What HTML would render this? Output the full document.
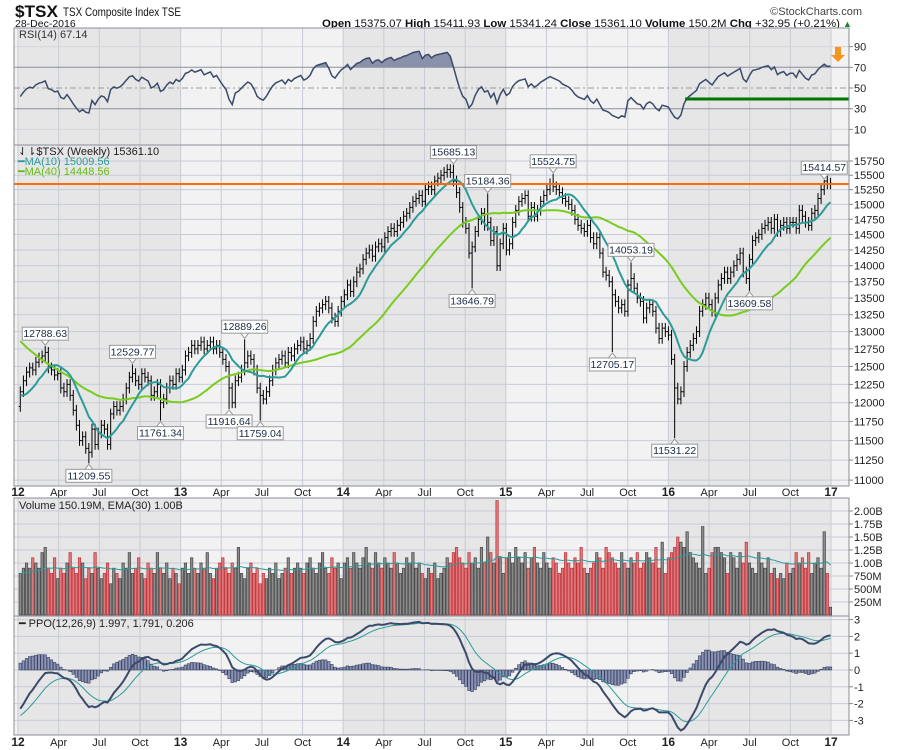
<!DOCTYPE html>
<html><head><meta charset="utf-8">
<style>
html,body{margin:0;padding:0;background:#fff;}
svg{display:block;font-family:"Liberation Sans",sans-serif;}
</style></head>
<body>
<svg id="chart" width="900" height="750" viewBox="0 0 900 750" xmlns="http://www.w3.org/2000/svg">
  <text x="15" y="17" font-size="17" font-weight="bold" fill="#111" textLength="43" lengthAdjust="spacingAndGlyphs">$TSX</text>
  <text x="63" y="16" font-size="12" fill="#111" textLength="118" lengthAdjust="spacingAndGlyphs">TSX Composite Index  TSE</text>
  <text x="15" y="27" font-size="10.5" fill="#111">28-Dec-2016</text>
  <text x="862" y="15" font-size="11" fill="#444" text-anchor="end">©StockCharts.com</text>
  <text x="322" y="27" font-size="11" fill="#111" textLength="518" lengthAdjust="spacingAndGlyphs"><tspan font-weight="bold">Open</tspan> 15375.07 <tspan font-weight="bold">High</tspan> 15411.93 <tspan font-weight="bold">Low</tspan> 15341.24 <tspan font-weight="bold">Close</tspan> 15361.10 <tspan font-weight="bold">Volume</tspan> 150.2M <tspan font-weight="bold">Chg</tspan> +32.95 (+0.21%)</text>
  <text x="843" y="27" font-size="9" fill="#1a8a1a">▲</text>
</svg>
<script>
// ---------- DATA ----------
const priorCloses = [14000,14100,14150,14050,13900,14000,14100,13950,13800,13700,13550,13500,13400,13300,13200,13100,13300,13350,13200,12900,12700,12400,12300,12450,12550,12400,12200,12100,11800,11900,12100,12300,12200,12100,12000,12050,11950,12200,12100,11950];
const closes2012 = [12150,12300,12420,12480,12450,12560,12620,12650,12700,12480,12450,12380,12400,12200,12150,12250,12100,11900,11700,11500,11550,11400,11350,11650,11450,11600,11700,11650,11450,11850,11950,11900,11950,12050,12200,12350,12400,12300,12250,12400,12350,12300,12100,12150,12250,12000,12050,12200,12300,12250,12400,12350];
const closes2013 = [12450,12650,12700,12800,12750,12800,12850,12750,12800,12850,12750,12800,12700,12600,12500,12200,12000,12300,12350,12450,12550,12650,12600,12450,12200,12100,12050,12150,12300,12450,12550,12600,12650,12550,12700,12650,12750,12800,12850,12750,12800,12900,13150,13300,13350,13400,13450,13350,13200,13150,13300,13450];
const closes2014 = [13550,13700,13600,13750,13900,13950,14100,14200,14250,14150,14300,14350,14300,14450,14550,14600,14550,14650,14700,14800,14850,14950,15050,15100,15150,15050,15250,15300,15250,15400,15450,15500,15550,15600,15550,15400,15200,14950,14700,14600,14200,14300,14550,14750,14850,14650,14700,14400,14550,14000,14350,14600];
const closes2015 = [14250,14350,14700,14900,15050,15100,15150,14800,14950,14800,14900,15050,15150,15250,15350,15300,15250,15200,15100,15050,15000,14900,14750,14650,14600,14550,14650,14450,14350,14450,14200,13900,13850,13750,13550,13450,13350,13400,13300,13700,13800,13650,13500,13450,13200,13350,13400,13300,13050,12900,13050,13000];
const closes2016 = [12950,12600,12200,12050,12150,12500,12700,12800,12900,13000,13300,13400,13500,13400,13300,13500,13700,13800,13900,13800,13900,14000,14100,14200,13900,13800,14100,14400,14450,14500,14600,14650,14700,14600,14750,14550,14650,14700,14600,14700,14700,14600,14900,14800,14700,14650,14850,14900,15100,15250,15400,15350,15361];
// volume in hundreds of millions
const volume = [
8,9,10,9,11,10,9,12,13,9,8,11,7, 9,8,10,12,9,8,11,10,7,9,8,12,9, 7,8,10,6,9,8,7,10,9,12,8,9,11, 8,7,10,9,8,12,9,8,10,7,9,8,6,
9,10,8,11,9,8,10,9,12,8,7,9,10, 11,9,8,10,9,13,8,7,9,10,8,9,6, 8,7,9,8,10,7,8,9,11,8,9,10,9, 8,10,11,9,8,10,12,9,8,11,9,10,7,
10,11,9,12,10,9,11,13,10,9,12,10,9, 11,10,9,12,10,8,9,11,10,12,9,10,8, 7,9,8,10,7,8,9,11,10,12,13,11,10, 9,12,10,11,9,13,10,15,12,10,22,11,8,
11,12,10,13,11,10,12,9,11,13,10,9,12, 10,9,11,10,8,9,12,10,9,11,10,13,9, 8,9,10,12,11,9,13,12,11,10,9,12,10, 9,11,10,12,9,10,12,11,10,13,9,14,8,
11,12,13,15,14,13,16,12,11,10,9,17,8, 9,12,13,13,12,11,8,12,11,9,12,10,14, 10,9,8,12,10,9,11,8,9,7,8,7,10, 8,9,12,10,11,9,12,8,10,11,9,16,8,1.5];
const annIdx = [8,22,36,45,67,72,77,139,145,150,171,190,196,210,234,258];
const annVal = [12788.63,11209.55,12529.77,11761.34,11916.64,12889.26,11759.04,15685.13,13646.79,15184.36,15524.75,12705.17,14053.19,11531.22,13609.58,15414.57];
const annHigh = [1,0,1,0,0,1,0,1,0,1,1,0,1,0,0,1];
const priceTicks = [15750,15500,15250,15000,14750,14500,14250,14000,13750,13500,13250,13000,12750,12500,12250,12000,11750,11500,11250,11000];
const rsiTicks = [90,70,50,30,10];
const volTicks = [2.0,1.75,1.5,1.25,1.0,0.75,0.5,0.25];
const volTickLabels = ['2.00B','1.75B','1.50B','1.25B','1.00B','750M','500M','250M'];
const ppoTicks = [3,2,1,0,-1,-2,-3];

// ---------- SCALES ----------
const L=14, R=849;
const closes = [].concat(closes2012,closes2013,closes2014,closes2015,closes2016);
const all = priorCloses.concat(closes);
const P = priorCloses.length;
const N = closes.length;
const xi = i => 20.3 + i*3.116;
const xt = y => 18 + (y-2012)*162.6;
const yPrice = p => 161 + 889*(Math.log(15750)-Math.log(p));
const yRsi = v => 88 - (v-50)*1.035;
const yVol = b => 615 - b*52;
const yPpo = v => 670 - v*16.8;
const MAIN=[145,486], RSIP=[28,145], VOLP=[498,616], PPOP=[616,735];

// ---------- INDICATORS ----------
function sma(arr,n){return arr.map((v,i)=>{const s=Math.max(0,i-n+1);let t=0;for(let j=s;j<=i;j++)t+=arr[j];return t/(i-s+1);});}
function ema(arr,n){const k=2/(n+1);let e=arr[0];return arr.map(v=>(e=v*k+e*(1-k)));}
const ma10 = sma(all,10).slice(P), ma40 = sma(all,40).slice(P);
let ag=0, al=0; const rsiAll=[50];
for(let i=1;i<all.length;i++){const d=all[i]-all[i-1];const g=Math.max(d,0),l=Math.max(-d,0);
  if(i<=14){ag+=g/14;al+=l/14;}else{ag=(ag*13+g)/14;al=(al*13+l)/14;}
  rsiAll.push(al===0?100:100-100/(1+ag/al));}
const rsi = rsiAll.slice(P);
const e12=ema(all,12), e26=ema(all,26);
const ppoAll = all.map((v,i)=>(e12[i]-e26[i])/e26[i]*100);
const sigAll = ema(ppoAll,9);
const ppo = ppoAll.slice(P), sig = sigAll.slice(P);
const volB = volume.map(v=>v/10);
const volEma = ema(volB,30);

// ---------- DRAW ----------
const NS='http://www.w3.org/2000/svg';
const svg=document.getElementById('chart');
function mk(tag,attrs,parent){const e=document.createElementNS(NS,tag);for(const k in attrs)e.setAttribute(k,attrs[k]);(parent||svg).appendChild(e);return e;}
function txt(s,attrs,parent){const e=mk('text',attrs,parent);e.textContent=s;return e;}

function panel(name,top,bot){
  const g=mk('g',{});
  
  
  const bg=mk('rect',{x:L,y:top,width:R-L,height:bot-top,fill:'#f2f2f2'},g);
  
  
  for(let y=2012;y<=2016;y+=2){
    const b=mk('rect',{x:Math.max(L,xt(y)),y:top,width:Math.min(R,xt(y+1))-Math.max(L,xt(y)),height:bot-top,fill:'#e6e6e6'},g);
    
    
  }
  for(let y=2012;y<2017;y++)for(let q=0;q<4;q++){
    const x=xt(y+q/4); if(x<L||x>R)continue;
    const l=mk('line',{x1:x,x2:x,y1:top,y2:bot,stroke:'#c8ccd6','stroke-width':1},g);
    
    
  }
  const x17=mk('line',{x1:xt(2017),x2:xt(2017),y1:top,y2:bot,stroke:'#c8ccd6'},g);
  
  
  return g;
}
function hgrid(g,y,label,col){
  const l=mk('line',{x1:L,x2:R,y1:y,y2:y,stroke:col||'#c8ccd6'},g);
  
  
  mk('line',{x1:R,x2:R+4,y1:y,y2:y,stroke:'#888'},g);
  const t=txt(label,{x:R+5,y:y+4,'font-size':11,fill:'#222'},g);
  
  
}
function border(g,top,bot){
  const b=mk('rect',{x:L,y:top,width:R-L,height:bot-top,fill:'none',stroke:'#8a8f99'},g);
  
  
}
function linePath(vals,yf,attrs,g,name){
  const d=vals.map((v,i)=>(i?'L':'M')+xi(i).toFixed(1)+','+yf(v).toFixed(1)).join('');
  const p=mk('path',Object.assign({d:d,fill:'none'},attrs),g);
  
  
  return p;
}

// RSI panel
const gR=panel('rsi-panel',RSIP[0],RSIP[1]);
rsiTicks.forEach(v=>hgrid(gR,yRsi(v),String(v),(v===70||v===30)?'#8a8f99':(v===50?'none':'#d4d7de')));
const mid=mk('line',{x1:L,x2:R,y1:yRsi(50),y2:yRsi(50),stroke:'#999','stroke-dasharray':'6,3,2,3'},gR);


const cp=mk('clipPath',{id:'ob'},gR);
mk('rect',{x:L,y:RSIP[0],width:R-L,height:yRsi(70)-RSIP[0]},cp);
const area='M'+xi(0)+','+yRsi(70)+rsi.map((v,i)=>'L'+xi(i).toFixed(1)+','+yRsi(v).toFixed(1)).join('')+'L'+xi(N-1)+','+yRsi(70)+'Z';
const ar=mk('path',{d:area,fill:'#8a91aa','clip-path':'url(#ob)'},gR);


linePath(rsi,yRsi,{stroke:'#3b4a6b','stroke-width':1.5},gR,'rsi-line');
const gl=mk('line',{x1:685,x2:R,y1:99,y2:99,stroke:'#007700','stroke-width':3},gR);


const arw=mk('path',{d:'M835,47H841V55H845L838,62L831,55H835Z',fill:'#f7941d'},gR);


border(gR,RSIP[0],RSIP[1]);
const rl=txt('RSI(14) 67.14',{x:19,y:38,'font-size':11,fill:'#333'},gR);



// Main panel
const gM=panel('price-panel',MAIN[0],MAIN[1]);
priceTicks.forEach(v=>hgrid(gM,yPrice(v),String(v)));
const gB=mk('g',{},gM);


const hiOv={}, loOv={};
annIdx.forEach((ix,k)=>{if(annHigh[k])hiOv[ix]=annVal[k];else loOv[ix]=annVal[k];});
for(let i=0;i<N;i++){
  const o=all[P+i-1], c=closes[i];
  const hi=hiOv[i]||Math.max(o,c)*1.006, lo=loOv[i]||Math.min(o,c)*0.994;
  const x=xi(i);
  const b=mk('path',{d:`M${x},${yPrice(lo)}V${yPrice(hi)}M${x-1.5},${yPrice(o)}H${x}M${x},${yPrice(c)}H${x+1.5}`,stroke:'#000','stroke-width':1,fill:'none'},gB);
  
  
}
linePath(ma40,yPrice,{stroke:'#78cc1e','stroke-width':2},gM,'ma40-line');
linePath(ma10,yPrice,{stroke:'#2b9c9a','stroke-width':2},gM,'ma10-line');
const ol=mk('line',{x1:L,x2:R,y1:184,y2:184,stroke:'#ff6a0a','stroke-width':2},gM);


annIdx.forEach((ix,k)=>{
  const x=xi(ix), y=yPrice(annVal[k]), w=46, h=13;
  const by=annHigh[k]?y-6-h:y+6;
  const g=mk('g',{},gM);
  
  
  mk('path',{d:annHigh[k]?`M${x-4},${by+h}L${x},${by+h+5}L${x+4},${by+h}`:`M${x-4},${by}L${x},${by-5}L${x+4},${by}`,fill:'#fff',stroke:'#999'},g);
  mk('rect',{x:x-w/2,y:by,width:w,height:h,fill:'#fff',stroke:'#999'},g);
  txt(annVal[k].toFixed(2),{x:x,y:by+10,'font-size':10.5,'text-anchor':'middle',fill:'#1a2a44'},g);
});
border(gM,MAIN[0],MAIN[1]);
const lg=mk('g',{},gM);


txt('⇃⇂$TSX (Weekly) 15361.10',{x:18,y:155,'font-size':11,fill:'#222'},lg);
txt('━MA(10) 15009.56',{x:18,y:165,'font-size':11,fill:'#2b9c9a'},lg);
txt('━MA(40) 14448.56',{x:18,y:175,'font-size':11,fill:'#66bb11'},lg);

// X axis labels
function xlabels(y,name){
  const g=mk('g',{});
  
  
  const m=['','Apr','Jul','Oct'];
  for(let yr=2012;yr<=2017;yr++)for(let q=0;q<4;q++){
    if(yr===2017&&q>0)continue;
    const t=txt(q?m[q]:String(yr).slice(2),{x:xt(yr+q/4),y:y,'font-size':q?11:12,'font-weight':q?'normal':'bold','text-anchor':'middle',fill:'#222'},g);
    
    
  }
}
xlabels(496,'x-axis-top');
xlabels(746,'x-axis-bottom');

// Volume panel
const gV=panel('volume-panel',VOLP[0],VOLP[1]);
volTicks.forEach((v,k)=>hgrid(gV,yVol(v),volTickLabels[k]));
for(let i=0;i<N;i++){
  const down=i>0?closes[i]<closes[i-1]:closes[0]<priorCloses[P-1];
  const r=mk('rect',{x:xi(i)-1.2,y:yVol(volB[i]),width:2.4,height:615-yVol(volB[i]),fill:down?'#e07a7a':'#8c8c8c',stroke:down?'#c0303a':'#444','stroke-width':0.7},gV);
  
  
}
linePath(volEma,yVol,{stroke:'#2b9c9a','stroke-width':1},gV,'volume-ema-line');
border(gV,VOLP[0],VOLP[1]);
const vl=txt('Volume 150.19M, EMA(30) 1.00B',{x:19,y:509,'font-size':11,fill:'#222'},gV);



// PPO panel
const gP=panel('ppo-panel',PPOP[0],PPOP[1]);
ppoTicks.forEach(v=>hgrid(gP,yPpo(v),String(v)));
for(let i=0;i<N;i++){
  const h=ppo[i]-sig[i];
  const r=mk('rect',{x:xi(i)-1.3,y:Math.min(yPpo(h),yPpo(0)),width:2.6,height:Math.abs(yPpo(h)-yPpo(0)),fill:'#8a93b5',stroke:'#3a4262','stroke-width':0.6},gP);
  
  
}
linePath(sig,yPpo,{stroke:'#2b9c9a','stroke-width':1},gP,'ppo-signal-line');
linePath(ppo,yPpo,{stroke:'#3b4a6b','stroke-width':2},gP,'ppo-line');
border(gP,PPOP[0],PPOP[1]);
const pl=txt('━ PPO(12,26,9) 1.997, 1.791, 0.206',{x:19,y:627,'font-size':11,fill:'#222'},gP);


</script>
</body></html>
